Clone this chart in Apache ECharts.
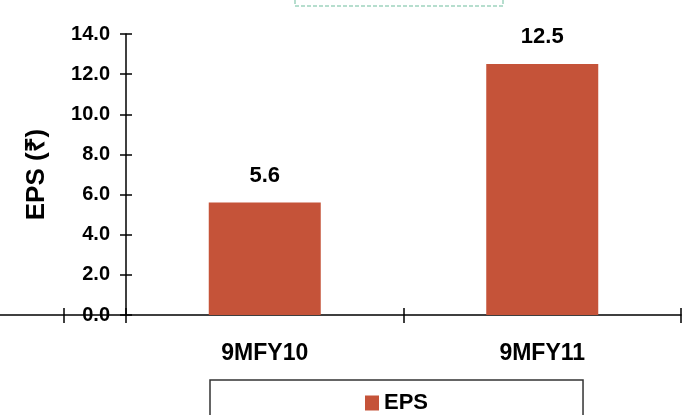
<!DOCTYPE html>
<html><head><meta charset="utf-8">
<script src="https://cdn.jsdelivr.net/npm/echarts@6/dist/echarts.min.js"></script>
<style>html,body{margin:0;padding:0;background:#fff}#c{width:683px;height:415px}</style>
</head><body><div id="c"></div>
<script>
const categories = ['9MFY10', '9MFY11'];
const epsValues = [5.6, 12.5];
const seriesName = 'EPS';
const yTitle = 'EPS (₹)';
const yMin = 0, yMax = 14, yStep = 2;

const SANS = '"Liberation Sans", Arial, sans-serif';
const chart = echarts.init(document.getElementById('c'));
chart.setOption({
  animation: false,
  grid: { left: 126, right: 2, top: 34, bottom: 100 },
  legend: {
    data: [seriesName], left: 210, top: 380,
    padding: [12, 155, 20, 155],
    borderColor: '#333', borderWidth: 1.5,
    itemWidth: 14, itemHeight: 15, itemGap: 6,
    icon: 'rect',
    textStyle: { fontFamily: SANS, fontWeight: 'bold', fontSize: 22, color: '#000' }
  },
  xAxis: [{
    type: 'category', data: categories, position: 'bottom',
    axisLine: { lineStyle: { color: '#000', width: 1.5 } },
    axisTick: { show: true, length: 8, lineStyle: { color: '#000', width: 1.5 } },
    axisLabel: { margin: 27, fontFamily: SANS, fontWeight: 'bold', fontSize: 23, color: '#000' }
  }, {
    type: 'category', data: categories, position: 'bottom',
    axisLine: { show: false },
    axisTick: { show: true, inside: true, length: 7, lineStyle: { color: '#000', width: 1.5 } },
    axisLabel: { show: false }
  }],
  yAxis: [{
    type: 'value', min: yMin, max: yMax, interval: yStep,
    name: yTitle, nameLocation: 'middle', nameGap: 76, nameRotate: 90,
    nameTextStyle: { fontFamily: SANS, fontWeight: 'bold', fontSize: 26, color: '#000' },
    axisLine: { show: true, lineStyle: { color: '#000', width: 1.5 } },
    axisTick: { show: true, length: 6, lineStyle: { color: '#000', width: 1.5 } },
    axisLabel: { margin: 16, formatter: v => v.toFixed(1), fontFamily: SANS, fontWeight: 'bold', fontSize: 20, color: '#000' },
    splitLine: { show: false }
  }, {
    type: 'value', min: yMin, max: yMax, interval: yStep, position: 'left',
    axisLine: { show: false },
    axisTick: { show: true, inside: true, length: 6, lineStyle: { color: '#000', width: 1.5 } },
    axisLabel: { show: false }, splitLine: { show: false }
  }],
  series: [{
    name: seriesName, type: 'bar', data: epsValues, barWidth: 112,
    itemStyle: { color: '#C55339' },
    label: { show: true, position: 'top', distance: 16, formatter: p => p.value.toFixed(1),
      fontFamily: SANS, fontWeight: 'bold', fontSize: 22, color: '#000' }
  }],
  graphic: [
    { type: 'line', shape: { x1: 0, y1: 315, x2: 126, y2: 315 }, style: { stroke: '#000', lineWidth: 1.5 } },
    { type: 'line', shape: { x1: 64, y1: 308, x2: 64, y2: 323 }, style: { stroke: '#000', lineWidth: 1.5 } },
    { type: 'rect', shape: { x: 295, y: -20, width: 208, height: 26 }, style: { fill: 'none', stroke: '#9fd3bf', lineWidth: 1.5, lineDash: [4, 2] } }
  ]
});
</script></body></html>
